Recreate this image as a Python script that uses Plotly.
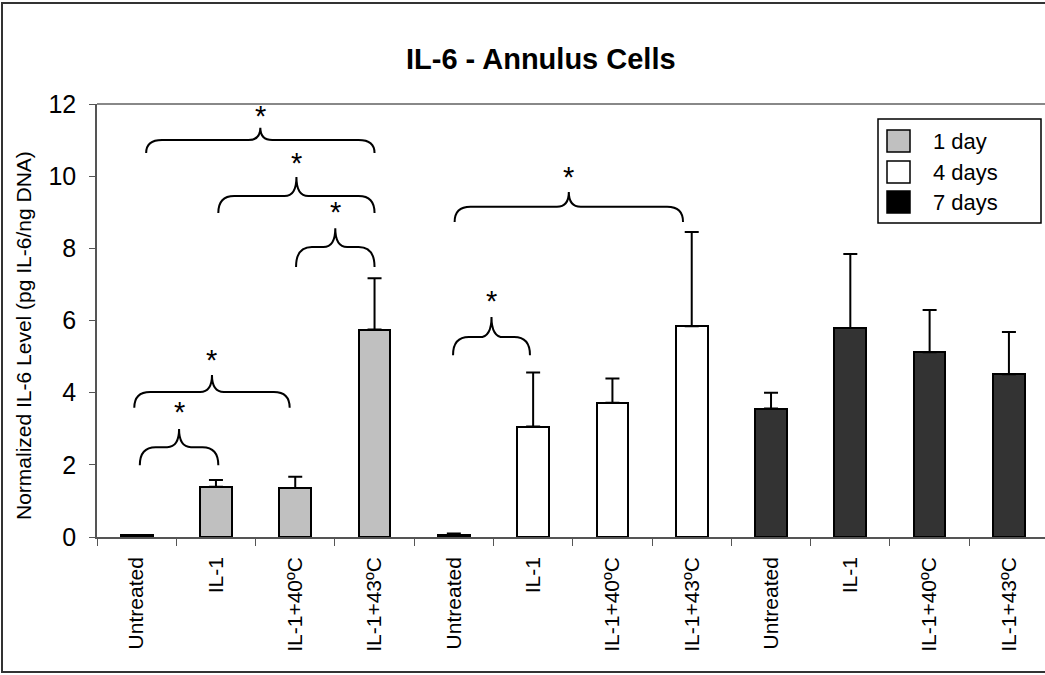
import plotly.graph_objects as go

# ---- data ----
categories = ["Untreated", "IL-1", "IL-1+40ºC", "IL-1+43ºC"]
series_names = ["1 day", "4 days", "7 days"]
means_1day = [0.05, 1.39, 1.36, 5.75]
sd_1day = [0.0, 0.19, 0.31, 1.42]
means_4days = [0.06, 3.06, 3.72, 5.84]
sd_4days = [0.04, 1.50, 0.67, 2.61]
means_7days = [3.56, 5.79, 5.12, 4.51]
sd_7days = [0.44, 2.05, 1.17, 1.17]
y_ticks = [0, 2, 4, 6, 8, 10, 12]

bar_colors = ["#c0c0c0", "#ffffff", "#333333"]
legend_colors = ["#c0c0c0", "#ffffff", "#000000"]

# significance braces: (left x, right x, end y, flat y, peak y, star y)
braces = [
    (0.12, 3.00, 10.64, 11.00, 11.34, 11.81),
    (1.03, 3.00, 8.98, 9.45, 9.98, 10.50),
    (2.01, 3.00, 7.48, 8.04, 8.56, 9.15),
    (-0.03, 1.93, 3.58, 4.02, 4.49, 5.04),
    (0.04, 1.03, 1.99, 2.49, 2.99, 3.60),
    (4.01, 6.89, 8.73, 9.15, 9.56, 10.11),
    (3.99, 4.96, 5.04, 5.54, 6.10, 6.68),
]

FONT = "Arial, 'Liberation Sans', sans-serif"
W, H = 1045, 675
ML, MR, MT, MB = 97, 0, 104, 138
PW, PH = W - ML - MR, H - MT - MB
Y_PER_PX = 12 / PH


def px2paper(x, y):
    return (x - ML) / PW, (H - MB - y) / PH


groups = [means_1day, means_4days, means_7days]
errors = [sd_1day, sd_4days, sd_7days]
n = len(categories)

fig = go.Figure()
for g, (vals, errs) in enumerate(zip(groups, errors)):
    xs = [g * n + i for i in range(n)]
    fig.add_trace(go.Bar(
        x=xs, y=vals, width=0.40, name=series_names[g], showlegend=False,
        marker=dict(color=bar_colors[g], line=dict(color="#000000", width=2)),
        error_y=dict(type="data", array=errs, arrayminus=[0] * n, symmetric=False,
                     color="#000000", thickness=2, width=7),
    ))

shapes = []
annotations = []

# braces with stars above
STAR_SIZE = 29
for x0, x1, ye, yf, yp, ys in braces:
    xm = (x0 + x1) / 2
    r, r2 = 0.2, 0.15
    path = (f"M {x0},{ye} Q {x0},{yf} {x0 + r},{yf} L {xm - r2},{yf} "
            f"Q {xm},{yf} {xm},{yp} Q {xm},{yf} {xm + r2},{yf} "
            f"L {x1 - r},{yf} Q {x1},{yf} {x1},{ye}")
    shapes.append(dict(type="path", xref="x", yref="y", path=path,
                       line=dict(color="#000000", width=2)))
    # the asterisk glyph sits high in its line box, so shift the box down
    annotations.append(dict(x=xm, y=ys - 0.17 * STAR_SIZE * Y_PER_PX, xref="x", yref="y",
                            text="*", showarrow=False, yanchor="middle",
                            font=dict(family=FONT, size=STAR_SIZE, color="#000000")))

# plot-area top border
shapes.append(dict(type="line", xref="paper", yref="paper", x0=0, x1=1.01, y0=1, y1=1,
                   line=dict(color="#888888", width=2)))

# outer chart frame
fx0, fy0 = px2paper(2, 3)
fx1, fy1 = px2paper(1060, 672)
shapes.append(dict(type="rect", xref="paper", yref="paper", x0=fx0, y0=fy1, x1=fx1, y1=fy0,
                   line=dict(color="#333333", width=2), layer="below"))

# legend box
lx0, ly0 = px2paper(878, 119)
lx1, ly1 = px2paper(1041, 223)
shapes.append(dict(type="rect", xref="paper", yref="paper", x0=lx0, y0=ly1, x1=lx1, y1=ly0,
                   line=dict(color="#000000", width=1.5), fillcolor="#ffffff"))
row_centers = [141, 172, 202]
for name, col, yc in zip(series_names, legend_colors, row_centers):
    sx0, sy0 = px2paper(887, yc - 11)
    sx1, sy1 = px2paper(910, yc + 11)
    shapes.append(dict(type="rect", xref="paper", yref="paper", x0=sx0, y0=sy1, x1=sx1, y1=sy0,
                       line=dict(color="#000000", width=1.5), fillcolor=col))
    tx, ty = px2paper(931, yc)
    annotations.append(dict(x=tx, y=ty, xref="paper", yref="paper", text=name,
                            showarrow=False, xanchor="left", yanchor="middle",
                            font=dict(family=FONT, size=22, color="#000000")))

# title
tx, ty = px2paper(541, 59)
annotations.append(dict(x=tx, y=ty, xref="paper", yref="paper",
                        text="<b>IL-6 - Annulus Cells</b>", showarrow=False,
                        xanchor="center", yanchor="middle",
                        font=dict(family=FONT, size=29, color="#000000")))

# y-axis title
tx, ty = px2paper(23, 336)
annotations.append(dict(x=tx, y=ty, xref="paper", yref="paper",
                        text="Normalized IL-6 Level (pg IL-6/ng DNA)", showarrow=False,
                        textangle=-90, xanchor="center", yanchor="middle",
                        font=dict(family=FONT, size=21, color="#000000")))

fig.update_layout(
    width=W, height=H,
    margin=dict(l=ML, r=MR, t=MT, b=MB, pad=0),
    paper_bgcolor="#ffffff", plot_bgcolor="#ffffff",
    showlegend=False, bargap=0,
    shapes=shapes, annotations=annotations,
    xaxis=dict(
        range=[-0.5, 11.455], tickmode="array",
        tickvals=list(range(3 * n)), ticktext=categories * 3,
        tickangle=-90, ticks="", showgrid=False, zeroline=False,
        showline=True, linecolor="#555555", linewidth=1.5,
        tickfont=dict(family=FONT, size=21, color="#000000"),
        ticklabelstandoff=10,
        minor=dict(tick0=0.5, dtick=1, ticks="outside", ticklen=7,
                   tickcolor="#555555", tickwidth=1, showgrid=False),
    ),
    yaxis=dict(
        range=[0, 12], tickmode="array", tickvals=y_ticks,
        ticks="outside", ticklen=6, tickcolor="#555555", tickwidth=1,
        showgrid=False, zeroline=False, showline=True,
        linecolor="#555555", linewidth=1.5,
        tickfont=dict(family=FONT, size=25, color="#000000"),
        ticklabelstandoff=8,
    ),
)

fig.write_html("out.html")
